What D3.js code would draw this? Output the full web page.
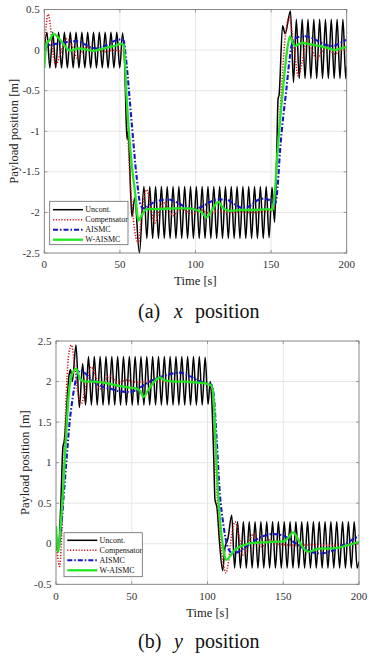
<!DOCTYPE html>
<html><head><meta charset="utf-8">
<script src="https://cdn.jsdelivr.net/npm/d3@7"></script>
<style>html,body{margin:0;padding:0;background:#fff;}svg{display:block;}</style>
</head><body>
<script>
// ---------- data ----------
const seriesNames = ["Uncont.", "Compensator", "AISMC", "W-AISMC"];
const timeTicks = [0, 50, 100, 150, 200];
const xPosTicks = [-2.5, -2, -1.5, -1, -0.5, 0, 0.5];
const yPosTicks = [-0.5, 0, 0.5, 1, 1.5, 2, 2.5];

// (a) x position  [time s, position m]
const uncontX = [
[0,0.0],[1.75,0.22],[3.7,-0.22],[5.6,0.22],[7.55,-0.22],[9.45,0.22],[11.4,-0.22],[13.3,0.22],[15.25,-0.22],[17.15,0.22],[19.1,-0.22],[21.0,0.22],[22.95,-0.22],[24.85,0.22],[26.8,-0.22],[28.7,0.22],[30.65,-0.22],[32.55,0.22],[34.5,-0.22],[36.4,0.22],[38.35,-0.22],[40.25,0.22],[42.2,-0.22],[44.1,0.22],[46.05,-0.22],[47.95,0.22],[49.9,-0.22],[51.8,0.21],
[53.2,-0.2],[54.3,-0.95],[54.8,-1.1],[55.4,-1.0],[57.3,-1.85],[58.0,-2.05],[59.8,-1.82],[62.9,-2.5],
[65.9,-1.68],[67.8,-2.32],[69.75,-1.68],[71.65,-2.32],[73.6,-1.68],[75.5,-2.32],[77.45,-1.68],[79.35,-2.32],[81.3,-1.68],[83.2,-2.32],[85.15,-1.68],[87.05,-2.32],[89.0,-1.68],[90.9,-2.32],[92.85,-1.68],[94.75,-2.32],[96.7,-1.68],[98.6,-2.32],[100.55,-1.68],[102.45,-2.32],[104.4,-1.68],[106.3,-2.32],[108.25,-1.68],[110.15,-2.32],[112.1,-1.68],[114.0,-2.32],[115.95,-1.68],[117.85,-2.32],[119.8,-1.68],[121.7,-2.32],[123.65,-1.68],[125.55,-2.32],[127.5,-1.68],[129.4,-2.32],[131.35,-1.68],[133.25,-2.32],[135.2,-1.68],[137.1,-2.32],[139.05,-1.68],[140.95,-2.32],[142.9,-1.68],[144.8,-2.32],[146.75,-1.68],[148.65,-2.31],[150.6,-1.69],
[152.3,-2.12],[153.7,-1.3],[154.6,-0.6],[155.3,-0.55],[157.6,0.3],[159.3,0.2],[162.8,0.48],[164.8,-0.4],
[166.7,0.38],[168.6,-0.35],[170.55,0.38],[172.45,-0.35],[174.4,0.38],[176.3,-0.35],[178.25,0.38],[180.15,-0.35],[182.1,0.38],[184.0,-0.35],[185.95,0.38],[187.85,-0.35],[189.8,0.38],[191.7,-0.35],[193.65,0.38],[195.55,-0.35],[197.5,0.38],[199.4,-0.35],[200,-0.2]
];
const compX = [
[0,0],[1.0,0.25],[2.5,0.44],[4.0,0.3],[5.5,0.0],[7.8,-0.18],[10.5,-0.05],[15.0,0.14],[18.5,0.05],[21.8,-0.1],[25,-0.02],[28.4,0.04],[32,-0.02],[36,0.0],[40,-0.02],[45,0.0],[50,-0.01],[52.5,0.0],
[54,-0.5],[56.5,-1.5],[59,-2.1],[62.2,-2.38],[64.5,-2.0],[67.7,-1.72],[70.5,-1.95],[73.2,-2.13],[76.5,-1.95],[79.8,-1.88],[82.5,-1.97],[85.3,-2.04],[88.5,-1.98],[92,-1.96],[95,-2.0],[98,-2.02],[101,-1.99],[104,-1.97],[107,-2.0],[110,-2.01],[115,-1.98],[120,-2.0],[125,-2.0],[130,-1.99],[135,-2.0],[140,-2.0],[145,-1.99],[150,-1.98],[152,-1.95],
[154,-1.3],[156.5,-0.6],[159,0.1],[162,0.4],[165,0.05],[168,-0.32],[170.5,-0.15],[173.5,0.11],[177,0.0],[180.2,-0.11],[183.5,-0.02],[186.8,0.04],[189.5,-0.01],[192.3,-0.05],[196,0.0],[200,0.0]
];
const aismcX = [
[0,0],[2,0.05],[5,0.07],[10,0.08],[15,0.1],[21,0.11],[26,0.08],[31,0.03],[35,0.02],[40,0.05],[45,0.1],[50,0.13],[52.5,0.12],
[54,-0.1],[57.8,-0.9],[61,-1.55],[63.5,-1.9],[65.5,-1.95],[68,-1.93],[72,-1.88],[77,-1.85],[82,-1.84],[87,-1.87],[93,-1.93],[98.5,-1.96],[104,-1.93],[110,-1.87],[115,-1.84],[120,-1.84],[126,-1.9],[132,-1.95],[137,-1.91],[141,-1.85],[145,-1.83],[149,-1.85],[152.5,-1.9],
[154,-1.75],[156,-1.22],[160,-0.5],[163.5,0.05],[165,0.12],[168,0.16],[172.5,0.17],[177,0.15],[182,0.1],[187,0.06],[191,0.05],[195,0.08],[200,0.13]
];
const waismcX = [
[0,-0.22],[1.6,0.09],[3.5,0.12],[6,0.2],[8.5,0.17],[11.5,0.1],[14,0.04],[17,-0.01],[20,0.01],[22.5,0.02],[27,0.01],[32.4,-0.01],[37,0.01],[43.5,0.04],[48,0.06],[50.5,0.08],[52.5,0.06],
[54.5,-0.6],[57.5,-1.35],[60,-1.75],[62.3,-2.1],[64,-2.05],[67.7,-1.96],[75,-1.96],[85,-1.95],[95,-1.95],[101,-1.97],[104,-2.0],[107.4,-2.06],[110,-2.0],[112.5,-1.92],[115,-1.87],[118,-1.94],[122.8,-1.98],[130,-1.97],[140,-1.97],[148,-1.96],[151,-1.97],
[152.5,-1.75],[154.1,-1.3],[158,-0.45],[161,0.05],[162.5,0.17],[164.5,0.08],[166,0.05],[168,0.07],[171,0.09],[176,0.07],[182.5,0.05],[188,0.02],[192,0.0],[196,0.02],[200,0.04]
];

// (b) y position  [time s, position m]
const uncontY = [
[0,0.0],[1.5,-0.1],[3.0,0.4],[4.6,1.2],[5.3,1.25],[8.8,2.1],[9.6,2.15],[10.8,2.0],[13.2,2.45],[15.4,1.68],
[17.6,2.22],[19.5,1.71],[21.45,2.31],[23.35,1.71],[25.3,2.31],[27.2,1.71],[29.15,2.31],[31.05,1.71],[33.0,2.31],[34.9,1.71],[36.85,2.31],[38.75,1.71],[40.7,2.31],[42.6,1.71],[44.55,2.31],[46.45,1.71],[48.4,2.31],[50.3,1.71],[52.25,2.31],[54.15,1.71],[56.1,2.31],[58.0,1.71],[59.95,2.31],[61.85,1.71],[63.8,2.31],[65.7,1.71],[67.65,2.31],[69.55,1.71],[71.5,2.31],[73.4,1.71],[75.35,2.31],[77.25,1.71],[79.2,2.31],[81.1,1.71],[83.05,2.31],[84.95,1.71],[86.9,2.31],[88.8,1.71],[90.75,2.31],[92.65,1.71],[94.6,2.31],[96.5,1.71],[98.45,2.3],[100.35,1.72],
[101.8,2.0],[102.8,1.78],[104.2,1.0],[104.9,0.55],[105.5,0.5],[106.2,0.45],[108.0,0.0],[110.0,-0.33],[111.5,-0.05],[112.6,0.02],[113.3,0.05],[116.0,0.35],
[117.9,-0.3],[119.85,0.27],[121.75,-0.3],[123.7,0.27],[125.6,-0.3],[127.55,0.27],[129.45,-0.3],[131.4,0.27],[133.3,-0.3],[135.25,0.27],[137.15,-0.3],[139.1,0.27],[141.0,-0.3],[142.95,0.27],[144.85,-0.3],[146.8,0.27],[148.7,-0.3],[150.65,0.27],[152.55,-0.3],[154.5,0.27],[156.4,-0.3],[158.35,0.27],[160.25,-0.3],[162.2,0.27],[164.1,-0.3],[166.05,0.27],[167.95,-0.3],[169.9,0.27],[171.8,-0.3],[173.75,0.27],[175.65,-0.3],[177.6,0.27],[179.5,-0.3],[181.45,0.27],[183.35,-0.3],[185.3,0.27],[187.2,-0.3],[189.15,0.27],[191.05,-0.3],[193.0,0.27],[194.9,-0.3],[196.85,0.27],[198.75,-0.3],[200,-0.22]
];
const compY = [
[0,0],[1,-0.15],[2.4,-0.28],[3.5,0.0],[5,0.8],[6.5,1.7],[8.2,2.3],[10.2,2.45],[12,2.25],[14.5,1.85],[16.8,1.73],[19.5,1.93],[23.5,2.18],[26.5,2.05],[29,1.91],[32,2.0],[35.5,2.07],[38.5,2.02],[41,1.98],[44,2.0],[46.6,2.02],[50,2.0],[55,1.99],[60,2.0],[65,2.0],[70,2.0],[75,2.0],[80,2.0],[85,2.0],[90,1.99],[95,1.99],[100,1.98],[102,1.97],
[103.5,1.85],[105,1.2],[106.5,0.55],[109,-0.05],[111,-0.3],[112.2,-0.36],[114,-0.2],[116,0.12],[118.2,0.27],[121,0.08],[123.6,-0.14],[127,0.0],[130.2,0.12],[133,0.04],[135.8,-0.04],[138.5,0.02],[141.4,0.05],[145,0.0],[150,-0.01],[160,-0.02],[170,-0.01],[180,-0.02],[190,-0.01],[200,0.0]
];
const aismcY = [
[0,0],[1.5,-0.05],[3,0.1],[4.8,0.53],[7,1.05],[8.8,1.46],[11,1.8],[13.5,2.05],[16,2.14],[18,2.12],[22,2.05],[27,1.97],[32,1.93],[36,1.91],[42,1.88],[48.8,1.87],[55,1.92],[62,2.0],[68,2.05],[75,2.09],[81.8,2.11],[88,2.07],[94,2.01],[100.5,1.97],[102.5,1.96],
[104,1.85],[106,1.3],[108.2,0.6],[110,0.3],[112,0.06],[114,-0.07],[117,-0.12],[122,-0.08],[128,0.0],[135,0.08],[143.4,0.12],[150,0.1],[157,0.02],[165,-0.07],[174.3,-0.12],[182,-0.09],[190,-0.01],[200,0.1]
];
const waismcY = [
[0,0.22],[1.5,-0.1],[3,0.2],[4.5,0.6],[5.9,1.07],[7.5,1.6],[9,1.95],[10.5,2.08],[13.3,2.16],[16,2.03],[19,2.0],[25,2.0],[30,1.99],[35.6,1.97],[41,1.95],[46.6,1.93],[52,1.92],[55.4,1.89],[57.6,1.81],[61,1.9],[65,2.0],[68.6,2.05],[72,2.01],[78,2.0],[85,2.0],[92,1.99],[98,1.98],[102.5,1.95],
[104,1.8],[105.5,1.2],[107.1,0.57],[109,0.15],[111,-0.12],[112.6,-0.2],[115,-0.15],[117,-0.1],[120,-0.05],[123.6,-0.02],[130,0.01],[140,0.02],[150.6,0.03],[153.5,0.08],[156.6,0.14],[159,0.08],[162,-0.02],[166.5,-0.1],[170,-0.08],[174.3,-0.06],[180,-0.06],[186,-0.05],[192,-0.02],[200,0.02]
];

// ---------- styles ----------
const styles = [
  {stroke:"#000000", width:1.5, dash:null},
  {stroke:"#d41414", width:1.6, dash:"1.2,1.6"},
  {stroke:"#1414cc", width:2.1, dash:"5,2,1.5,2"},
  {stroke:"#22e622", width:2.3, dash:null}
];
const serif = "'Liberation Serif','Times New Roman',Times,serif";

const svg = d3.select("body").append("svg").attr("width",371).attr("height",659);

function panel(cfg){
  const x = d3.scaleLinear().domain([0,200]).range([cfg.left, cfg.right]);
  const y = d3.scaleLinear().domain(cfg.yDomain).range([cfg.bottom, cfg.top]);
  const g = svg.append("g");
  g.append("rect").attr("x",cfg.left).attr("y",cfg.top).attr("width",cfg.right-cfg.left).attr("height",cfg.bottom-cfg.top).attr("fill","#fff");
  // grid
  g.append("g").selectAll("line").data(timeTicks.slice(1,-1)).join("line")
    .attr("x1",d=>x(d)).attr("x2",d=>x(d)).attr("y1",cfg.top).attr("y2",cfg.bottom)
    .attr("stroke","#e3e3e3").attr("stroke-width",0.9);
  g.append("g").selectAll("line").data(cfg.yTicks.slice(1,-1)).join("line")
    .attr("y1",d=>y(d)).attr("y2",d=>y(d)).attr("x1",cfg.left).attr("x2",cfg.right)
    .attr("stroke","#e3e3e3").attr("stroke-width",0.9);
  // clip
  const cid = "clip"+cfg.id;
  svg.append("clipPath").attr("id",cid).append("rect")
    .attr("x",cfg.left).attr("y",cfg.top-1).attr("width",cfg.right-cfg.left).attr("height",cfg.bottom-cfg.top+2);
  const line = d3.line().x(d=>x(d[0])).y(d=>y(d[1])).curve(d3.curveMonotoneX);
  const lg = g.append("g").attr("clip-path",`url(#${cid})`);
  cfg.series.forEach((s,i)=>{
    const st = styles[i];
    lg.append("path").datum(s).attr("d",line).attr("fill","none")
      .attr("stroke",st.stroke).attr("stroke-width",st.width)
      .attr("stroke-dasharray",st.dash).attr("stroke-linejoin","round");
  });
  // axes (ticks inward)
  const ax = g.append("g").attr("font-family",serif).attr("font-size",11).attr("fill","#333");
  const tl = 3;
  timeTicks.forEach(t=>{
    ax.append("line").attr("x1",x(t)).attr("x2",x(t)).attr("y1",cfg.bottom).attr("y2",cfg.bottom-tl).attr("stroke","#777").attr("stroke-width",0.7);
    ax.append("line").attr("x1",x(t)).attr("x2",x(t)).attr("y1",cfg.top).attr("y2",cfg.top+tl).attr("stroke","#777").attr("stroke-width",0.7);
    ax.append("text").attr("x",x(t)).attr("y",cfg.tickY).attr("text-anchor","middle").text(String(t));
  });
  cfg.yTicks.forEach(v=>{
    ax.append("line").attr("x1",cfg.left).attr("x2",cfg.left+tl).attr("y1",y(v)).attr("y2",y(v)).attr("stroke","#777").attr("stroke-width",0.7);
    ax.append("line").attr("x1",cfg.right).attr("x2",cfg.right-tl).attr("y1",y(v)).attr("y2",y(v)).attr("stroke","#777").attr("stroke-width",0.7);
    ax.append("text").attr("x",cfg.left-4.5).attr("y",y(v)).attr("dy","0.33em").attr("text-anchor","end").text(String(v));
  });
  g.append("rect").attr("x",cfg.left).attr("y",cfg.top).attr("width",cfg.right-cfg.left).attr("height",cfg.bottom-cfg.top)
    .attr("fill","none").attr("stroke","#7a7a7a").attr("stroke-width",0.9);
  // axis labels
  g.append("text").attr("x",(cfg.left+cfg.right)/2).attr("y",cfg.xlabelY).attr("text-anchor","middle")
    .attr("font-family",serif).attr("font-size",12.5).attr("fill","#222").text("Time [s]");
  g.append("text").attr("transform",`translate(${cfg.ylabelX},${(cfg.top+cfg.bottom)/2}) rotate(-90)`)
    .attr("text-anchor","middle").attr("font-family",serif).attr("font-size",12.5).attr("fill","#222").text("Payload position [m]");
  // legend
  const L = cfg.legend;
  const leg = g.append("g");
  leg.append("rect").attr("x",L.x).attr("y",L.y).attr("width",L.w).attr("height",L.h)
    .attr("fill","#fff").attr("stroke","#666").attr("stroke-width",0.8);
  seriesNames.forEach((n,i)=>{
    const cy = L.y + L.r0 + i*10;
    const st = styles[i];
    leg.append("line").attr("x1",L.x+3.3).attr("x2",L.x+33.3).attr("y1",cy).attr("y2",cy)
      .attr("stroke",st.stroke).attr("stroke-width",st.width).attr("stroke-dasharray",st.dash);
    leg.append("text").attr("x",L.x+35.6).attr("y",cy+2.7).attr("font-family",serif).attr("font-size",8).attr("fill","#111").text(n);
  });
  // caption
  const cap = g.append("text").attr("y",cfg.captionY).attr("font-family",serif).attr("font-size",20).attr("fill","#111");
  cap.append("tspan").attr("x",138).text(cfg.letter);
  cap.append("tspan").attr("x",174).attr("font-style","italic").text(cfg.variable);
  cap.append("tspan").attr("x",195).text("position");
}

panel({id:"a", left:44.3, right:346.7, top:9.5, bottom:253, yDomain:[-2.5,0.5], yTicks:xPosTicks,
  series:[uncontX, compX, aismcX, waismcX], tickY:268, xlabelY:284.5, ylabelX:17.5,
  legend:{x:49.7,y:201.3,w:78.3,h:43.4,r0:8.4}, captionY:318, letter:"(a)", variable:"x"});
panel({id:"b", left:56, right:359, top:341, bottom:584.3, yDomain:[-0.5,2.5], yTicks:yPosTicks,
  series:[uncontY, compY, aismcY, waismcY], tickY:599.5, xlabelY:616.5, ylabelX:28.5,
  legend:{x:64,y:532.7,w:78.3,h:44,r0:7.6}, captionY:648, letter:"(b)", variable:"y"});
</script>
</body></html>
